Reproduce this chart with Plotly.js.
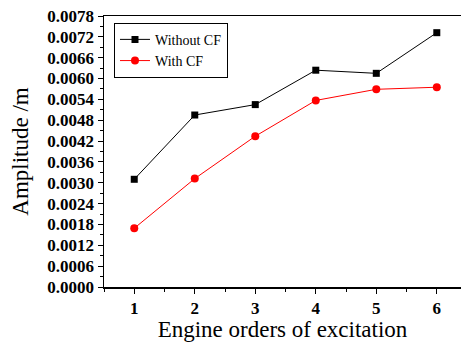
<!DOCTYPE html>
<html>
<head>
<meta charset="utf-8">
<script src="https://cdn.plot.ly/plotly-3.0.1.min.js"></script>
<style>html,body{margin:0;padding:0;background:#fff;}</style>
</head>
<body>
<div id="chart" style="width:461px;height:342px;"></div>
<script>
const orders = [1, 2, 3, 4, 5, 6];
const withoutCF = [0.00310, 0.00495, 0.00525, 0.00624, 0.00615, 0.00732];
const withCF = [0.00169, 0.00312, 0.00434, 0.00537, 0.00569, 0.00575];
const seriesNames = ['Without CF', 'With CF'];

const serif = '"Liberation Serif", "Times New Roman", serif';

const traces = [
  {x: orders, y: withoutCF, name: seriesNames[0], mode: 'lines+markers', type: 'scatter',
   line: {color: '#000000', width: 1}, marker: {symbol: 'square', size: 7, color: '#000000'}},
  {x: orders, y: withCF, name: seriesNames[1], mode: 'lines+markers', type: 'scatter',
   line: {color: '#ff0000', width: 1}, marker: {symbol: 'circle', size: 8, color: '#ff0000'}}
];

const layout = {
  width: 461, height: 342,
  margin: {l: 104, r: 0, t: 16, b: 55},
  paper_bgcolor: '#fff', plot_bgcolor: '#fff',
  showlegend: true,
  legend: {x: 0.028, y: 0.975, xanchor: 'left', yanchor: 'top', bordercolor: '#000', borderwidth: 1,
           bgcolor: '#fff', font: {family: serif, size: 14, color: '#000'}, tracegroupgap: 0,
           itemwidth: 30},
  xaxis: {
    range: [0.5, 6.4], dtick: 1, tick0: 1, showgrid: false, zeroline: false,
    showline: true, linecolor: '#000', linewidth: 1.5, mirror: true,
    ticks: 'outside', ticklen: 5, tickwidth: 1, tickcolor: '#000',
    minor: {dtick: 0.5, tick0: 0.5, ticks: 'outside', ticklen: 3, tickcolor: '#000', showgrid: false},
    tickfont: {family: serif, size: 17, color: '#000', weight: 'bold'},
    title: {text: 'Engine orders of excitation', font: {family: serif, size: 23, color: '#000'}, standoff: 4}
  },
  yaxis: {
    range: [0, 0.0078], dtick: 0.0006, tick0: 0, tickformat: '.4f', showgrid: false, zeroline: false,
    showline: true, linecolor: '#000', linewidth: 1.5, mirror: false,
    ticks: 'outside', ticklen: 5, tickwidth: 1, tickcolor: '#000',
    minor: {dtick: 0.0003, tick0: 0, ticks: 'outside', ticklen: 3, tickcolor: '#000', showgrid: false},
    tickfont: {family: serif, size: 17, color: '#000', weight: 'bold'},
    title: {text: 'Amplitude /m', font: {family: serif, size: 23, color: '#000'}, standoff: 12}
  }
};

Plotly.newPlot('chart', traces, layout, {displayModeBar: false, staticPlot: true});
</script>
</body>
</html>
